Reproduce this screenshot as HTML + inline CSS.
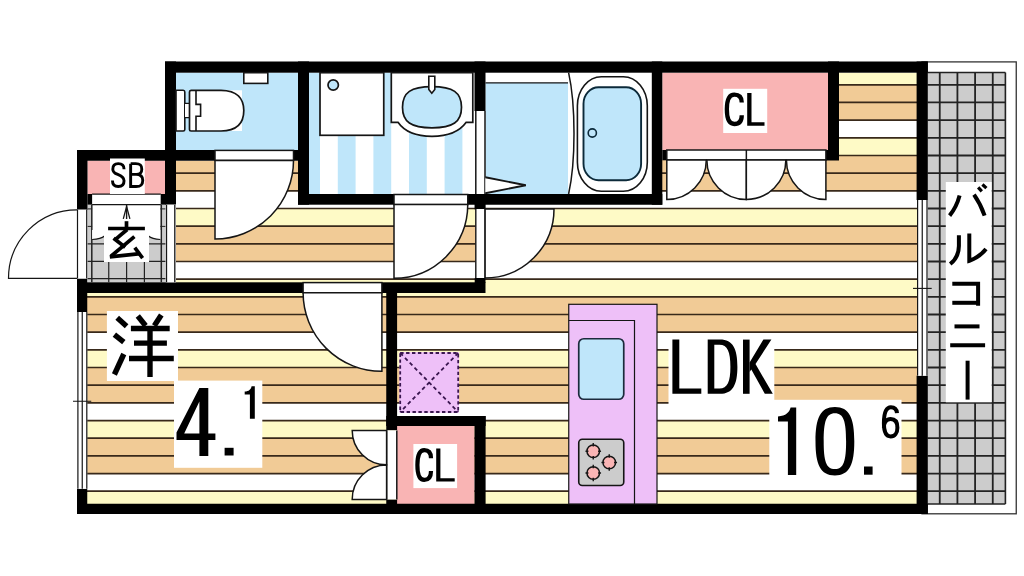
<!DOCTYPE html>
<html><head><meta charset="utf-8"><title>floor plan</title>
<style>html,body{margin:0;padding:0;background:#fff;font-family:"Liberation Sans",sans-serif;}svg{display:block}</style></head>
<body>
<svg width="1024" height="576" viewBox="0 0 1024 576">
<rect width="1024" height="576" fill="#fff"/>
<defs><clipPath id="fl">
<rect x="176" y="205" width="741" height="299"/>
<rect x="87" y="293" width="89" height="211"/>
<rect x="176" y="161" width="122" height="44"/>
<rect x="662" y="160" width="255" height="45"/>
<rect x="839" y="72.7" width="78" height="87.3"/>
</clipPath></defs>
<g clip-path="url(#fl)">
<rect x="80.00" y="49.46" width="840.00" height="18.17" fill="#ffffff" />
<rect x="80.00" y="67.13" width="840.00" height="18.17" fill="#fefac6" />
<rect x="80.00" y="84.80" width="840.00" height="18.17" fill="#f1cb96" />
<rect x="80.00" y="102.47" width="840.00" height="18.17" fill="#f1cb96" />
<rect x="80.00" y="120.14" width="840.00" height="18.17" fill="#ffffff" />
<rect x="80.00" y="137.81" width="840.00" height="18.17" fill="#fefac6" />
<rect x="80.00" y="155.48" width="840.00" height="18.17" fill="#f1cb96" />
<rect x="80.00" y="173.15" width="840.00" height="18.17" fill="#f1cb96" />
<rect x="80.00" y="190.82" width="840.00" height="18.17" fill="#ffffff" />
<rect x="80.00" y="208.49" width="840.00" height="18.17" fill="#fefac6" />
<rect x="80.00" y="226.16" width="840.00" height="18.17" fill="#f1cb96" />
<rect x="80.00" y="243.83" width="840.00" height="18.17" fill="#f1cb96" />
<rect x="80.00" y="261.50" width="840.00" height="18.17" fill="#ffffff" />
<rect x="80.00" y="279.17" width="840.00" height="18.17" fill="#fefac6" />
<rect x="80.00" y="296.84" width="840.00" height="18.17" fill="#f1cb96" />
<rect x="80.00" y="314.51" width="840.00" height="18.17" fill="#f1cb96" />
<rect x="80.00" y="332.18" width="840.00" height="18.17" fill="#ffffff" />
<rect x="80.00" y="349.85" width="840.00" height="18.17" fill="#fefac6" />
<rect x="80.00" y="367.52" width="840.00" height="18.17" fill="#f1cb96" />
<rect x="80.00" y="385.19" width="840.00" height="18.17" fill="#f1cb96" />
<rect x="80.00" y="402.86" width="840.00" height="18.17" fill="#ffffff" />
<rect x="80.00" y="420.53" width="840.00" height="18.17" fill="#fefac6" />
<rect x="80.00" y="438.20" width="840.00" height="18.17" fill="#f1cb96" />
<rect x="80.00" y="455.87" width="840.00" height="18.17" fill="#f1cb96" />
<rect x="80.00" y="473.54" width="840.00" height="18.17" fill="#ffffff" />
<rect x="80.00" y="491.21" width="840.00" height="18.17" fill="#fefac6" />
<rect x="80.00" y="508.88" width="840.00" height="18.17" fill="#f1cb96" />
<line x1="80.00" y1="49.46" x2="920.00" y2="49.46" stroke="#38291a" stroke-width="1.7" />
<line x1="80.00" y1="67.13" x2="920.00" y2="67.13" stroke="#38291a" stroke-width="1.7" />
<line x1="80.00" y1="84.80" x2="920.00" y2="84.80" stroke="#38291a" stroke-width="1.7" />
<line x1="80.00" y1="102.47" x2="920.00" y2="102.47" stroke="#38291a" stroke-width="1.7" />
<line x1="80.00" y1="120.14" x2="920.00" y2="120.14" stroke="#38291a" stroke-width="1.7" />
<line x1="80.00" y1="137.81" x2="920.00" y2="137.81" stroke="#38291a" stroke-width="1.7" />
<line x1="80.00" y1="155.48" x2="920.00" y2="155.48" stroke="#38291a" stroke-width="1.7" />
<line x1="80.00" y1="173.15" x2="920.00" y2="173.15" stroke="#38291a" stroke-width="1.7" />
<line x1="80.00" y1="190.82" x2="920.00" y2="190.82" stroke="#38291a" stroke-width="1.7" />
<line x1="80.00" y1="208.49" x2="920.00" y2="208.49" stroke="#38291a" stroke-width="1.7" />
<line x1="80.00" y1="226.16" x2="920.00" y2="226.16" stroke="#38291a" stroke-width="1.7" />
<line x1="80.00" y1="243.83" x2="920.00" y2="243.83" stroke="#38291a" stroke-width="1.7" />
<line x1="80.00" y1="261.50" x2="920.00" y2="261.50" stroke="#38291a" stroke-width="1.7" />
<line x1="80.00" y1="279.17" x2="920.00" y2="279.17" stroke="#38291a" stroke-width="1.7" />
<line x1="80.00" y1="296.84" x2="920.00" y2="296.84" stroke="#38291a" stroke-width="1.7" />
<line x1="80.00" y1="314.51" x2="920.00" y2="314.51" stroke="#38291a" stroke-width="1.7" />
<line x1="80.00" y1="332.18" x2="920.00" y2="332.18" stroke="#38291a" stroke-width="1.7" />
<line x1="80.00" y1="349.85" x2="920.00" y2="349.85" stroke="#38291a" stroke-width="1.7" />
<line x1="80.00" y1="367.52" x2="920.00" y2="367.52" stroke="#38291a" stroke-width="1.7" />
<line x1="80.00" y1="385.19" x2="920.00" y2="385.19" stroke="#38291a" stroke-width="1.7" />
<line x1="80.00" y1="402.86" x2="920.00" y2="402.86" stroke="#38291a" stroke-width="1.7" />
<line x1="80.00" y1="420.53" x2="920.00" y2="420.53" stroke="#38291a" stroke-width="1.7" />
<line x1="80.00" y1="438.20" x2="920.00" y2="438.20" stroke="#38291a" stroke-width="1.7" />
<line x1="80.00" y1="455.87" x2="920.00" y2="455.87" stroke="#38291a" stroke-width="1.7" />
<line x1="80.00" y1="473.54" x2="920.00" y2="473.54" stroke="#38291a" stroke-width="1.7" />
<line x1="80.00" y1="491.21" x2="920.00" y2="491.21" stroke="#38291a" stroke-width="1.7" />
<line x1="80.00" y1="508.88" x2="920.00" y2="508.88" stroke="#38291a" stroke-width="1.7" />
</g>
<rect x="922.00" y="61.90" width="94.25" height="451.90" fill="#fff" stroke="#333" stroke-width="1.3" />
<rect x="927.50" y="72.50" width="77.90" height="431.50" fill="#cccccc" />
<line x1="927.50" y1="84.80" x2="1005.40" y2="84.80" stroke="#222" stroke-width="1.8" />
<line x1="927.50" y1="102.47" x2="1005.40" y2="102.47" stroke="#222" stroke-width="1.8" />
<line x1="927.50" y1="120.14" x2="1005.40" y2="120.14" stroke="#222" stroke-width="1.8" />
<line x1="927.50" y1="137.81" x2="1005.40" y2="137.81" stroke="#222" stroke-width="1.8" />
<line x1="927.50" y1="155.48" x2="1005.40" y2="155.48" stroke="#222" stroke-width="1.8" />
<line x1="927.50" y1="173.15" x2="1005.40" y2="173.15" stroke="#222" stroke-width="1.8" />
<line x1="927.50" y1="190.82" x2="1005.40" y2="190.82" stroke="#222" stroke-width="1.8" />
<line x1="927.50" y1="208.49" x2="1005.40" y2="208.49" stroke="#222" stroke-width="1.8" />
<line x1="927.50" y1="226.16" x2="1005.40" y2="226.16" stroke="#222" stroke-width="1.8" />
<line x1="927.50" y1="243.83" x2="1005.40" y2="243.83" stroke="#222" stroke-width="1.8" />
<line x1="927.50" y1="261.50" x2="1005.40" y2="261.50" stroke="#222" stroke-width="1.8" />
<line x1="927.50" y1="279.17" x2="1005.40" y2="279.17" stroke="#222" stroke-width="1.8" />
<line x1="927.50" y1="296.84" x2="1005.40" y2="296.84" stroke="#222" stroke-width="1.8" />
<line x1="927.50" y1="314.51" x2="1005.40" y2="314.51" stroke="#222" stroke-width="1.8" />
<line x1="927.50" y1="332.18" x2="1005.40" y2="332.18" stroke="#222" stroke-width="1.8" />
<line x1="927.50" y1="349.85" x2="1005.40" y2="349.85" stroke="#222" stroke-width="1.8" />
<line x1="927.50" y1="367.52" x2="1005.40" y2="367.52" stroke="#222" stroke-width="1.8" />
<line x1="927.50" y1="385.19" x2="1005.40" y2="385.19" stroke="#222" stroke-width="1.8" />
<line x1="927.50" y1="402.86" x2="1005.40" y2="402.86" stroke="#222" stroke-width="1.8" />
<line x1="927.50" y1="420.53" x2="1005.40" y2="420.53" stroke="#222" stroke-width="1.8" />
<line x1="927.50" y1="438.20" x2="1005.40" y2="438.20" stroke="#222" stroke-width="1.8" />
<line x1="927.50" y1="455.87" x2="1005.40" y2="455.87" stroke="#222" stroke-width="1.8" />
<line x1="927.50" y1="473.54" x2="1005.40" y2="473.54" stroke="#222" stroke-width="1.8" />
<line x1="927.50" y1="491.21" x2="1005.40" y2="491.21" stroke="#222" stroke-width="1.8" />
<line x1="939.75" y1="72.50" x2="939.75" y2="504.00" stroke="#222" stroke-width="1.8" />
<line x1="957.42" y1="72.50" x2="957.42" y2="504.00" stroke="#222" stroke-width="1.8" />
<line x1="975.09" y1="72.50" x2="975.09" y2="504.00" stroke="#222" stroke-width="1.8" />
<line x1="992.76" y1="72.50" x2="992.76" y2="504.00" stroke="#222" stroke-width="1.8" />
<line x1="927.50" y1="72.50" x2="1005.40" y2="72.50" stroke="#222" stroke-width="1.6" />
<line x1="1005.40" y1="72.50" x2="1005.40" y2="504.00" stroke="#222" stroke-width="1.6" />
<line x1="927.50" y1="504.00" x2="1005.40" y2="504.00" stroke="#222" stroke-width="1.6" />
<rect x="176.00" y="72.70" width="122.00" height="77.50" fill="#bfe6fa" />
<rect x="309.00" y="72.70" width="165.50" height="121.50" fill="#fff" />
<rect x="309.00" y="72.70" width="11.00" height="121.50" fill="#bfe6fa" />
<rect x="337.80" y="72.70" width="17.80" height="121.50" fill="#bfe6fa" />
<rect x="373.40" y="72.70" width="17.80" height="121.50" fill="#bfe6fa" />
<rect x="409.00" y="72.70" width="17.80" height="121.50" fill="#bfe6fa" />
<rect x="444.60" y="72.70" width="17.80" height="121.50" fill="#bfe6fa" />
<rect x="485.50" y="72.70" width="166.50" height="121.50" fill="#fff" />
<rect x="485.50" y="82.80" width="82.50" height="111.40" fill="#bfe6fa" />
<line x1="485.50" y1="82.80" x2="568.00" y2="82.80" stroke="#151515" stroke-width="1.2" />
<rect x="662.30" y="72.70" width="165.70" height="77.30" fill="#f9b4b4" />
<rect x="87.50" y="160.70" width="78.00" height="33.30" fill="#f9b4b4" />
<rect x="397.00" y="426.00" width="77.50" height="78.00" fill="#f9b4b4" />
<rect x="87.50" y="194.00" width="78.00" height="88.30" fill="#cccccc" />
<rect x="92.10" y="194.00" width="68.20" height="43.00" fill="#fff" />
<rect x="399.40" y="352.20" width="59.60" height="60.60" fill="#eec0f8" />
<rect x="165.00" y="61.50" width="762.80" height="11.20" fill="#000" />
<rect x="165.00" y="61.50" width="11.00" height="143.20" fill="#000" />
<rect x="77.00" y="150.00" width="99.00" height="10.75" fill="#000" />
<rect x="77.00" y="150.00" width="10.50" height="60.00" fill="#000" />
<rect x="87.50" y="194.00" width="4.60" height="10.60" fill="#000" />
<rect x="160.80" y="194.00" width="4.70" height="10.60" fill="#000" />
<rect x="165.00" y="150.00" width="50.00" height="10.75" fill="#000" />
<rect x="293.50" y="150.00" width="15.50" height="10.75" fill="#000" />
<rect x="298.00" y="61.50" width="11.00" height="143.20" fill="#000" />
<rect x="298.00" y="194.00" width="96.00" height="10.70" fill="#000" />
<rect x="467.75" y="194.00" width="194.55" height="10.75" fill="#000" />
<rect x="474.55" y="204.00" width="11.05" height="5.40" fill="#000" />
<rect x="474.50" y="61.50" width="11.00" height="49.50" fill="#000" />
<rect x="651.80" y="61.50" width="10.50" height="143.25" fill="#000" />
<rect x="662.30" y="150.00" width="4.50" height="10.30" fill="#000" />
<rect x="828.00" y="61.50" width="11.00" height="99.00" fill="#000" />
<rect x="825.90" y="150.00" width="2.10" height="10.50" fill="#000" />
<rect x="916.60" y="61.50" width="11.20" height="138.50" fill="#000" />
<rect x="916.60" y="375.70" width="11.20" height="138.30" fill="#000" />
<rect x="77.00" y="503.75" width="850.80" height="10.25" fill="#000" />
<rect x="77.00" y="278.50" width="10.25" height="33.50" fill="#000" />
<rect x="77.00" y="488.75" width="10.25" height="25.25" fill="#000" />
<rect x="77.00" y="282.30" width="226.10" height="10.70" fill="#000" />
<rect x="381.90" y="282.30" width="103.60" height="10.70" fill="#000" />
<rect x="474.70" y="278.00" width="10.80" height="5.00" fill="#000" />
<rect x="386.25" y="293.00" width="10.85" height="137.40" fill="#000" />
<rect x="386.25" y="499.40" width="10.85" height="4.60" fill="#000" />
<rect x="386.25" y="416.00" width="99.35" height="10.00" fill="#000" />
<rect x="474.50" y="416.00" width="11.10" height="88.00" fill="#000" />
<rect x="917.00" y="200.00" width="10.50" height="175.70" fill="#fff" />
<line x1="917.60" y1="200.00" x2="917.60" y2="375.70" stroke="#151515" stroke-width="1.2" />
<line x1="922.25" y1="200.00" x2="922.25" y2="375.70" stroke="#151515" stroke-width="1.2" />
<line x1="927.00" y1="200.00" x2="927.00" y2="375.70" stroke="#151515" stroke-width="1.2" />
<line x1="913.00" y1="288.40" x2="931.70" y2="288.40" stroke="#151515" stroke-width="1.1" />
<rect x="77.00" y="312.00" width="10.25" height="176.75" fill="#fff" />
<line x1="77.90" y1="312.00" x2="77.90" y2="488.75" stroke="#151515" stroke-width="1.2" />
<line x1="82.25" y1="312.00" x2="82.25" y2="488.75" stroke="#151515" stroke-width="1.2" />
<line x1="86.80" y1="312.00" x2="86.80" y2="488.75" stroke="#151515" stroke-width="1.2" />
<line x1="73.00" y1="401.25" x2="91.25" y2="401.25" stroke="#151515" stroke-width="1.0" />
<line x1="87.50" y1="243.90" x2="165.50" y2="243.90" stroke="#222" stroke-width="1.2" />
<line x1="87.50" y1="261.40" x2="165.50" y2="261.40" stroke="#222" stroke-width="1.2" />
<line x1="87.50" y1="278.60" x2="165.50" y2="278.60" stroke="#222" stroke-width="1.2" />
<line x1="87.50" y1="208.90" x2="92.10" y2="208.90" stroke="#222" stroke-width="1.0" />
<line x1="160.30" y1="208.90" x2="165.50" y2="208.90" stroke="#222" stroke-width="1.0" />
<line x1="87.50" y1="226.40" x2="92.10" y2="226.40" stroke="#222" stroke-width="1.0" />
<line x1="160.30" y1="226.40" x2="165.50" y2="226.40" stroke="#222" stroke-width="1.0" />
<line x1="108.75" y1="237.00" x2="108.75" y2="282.30" stroke="#222" stroke-width="1.2" />
<line x1="126.60" y1="237.00" x2="126.60" y2="282.30" stroke="#222" stroke-width="1.2" />
<line x1="144.40" y1="237.00" x2="144.40" y2="282.30" stroke="#222" stroke-width="1.2" />
<line x1="91.80" y1="204.60" x2="91.80" y2="282.30" stroke="#222" stroke-width="1.5" />
<line x1="161.30" y1="204.60" x2="161.30" y2="282.30" stroke="#222" stroke-width="1.5" />
<line x1="92.10" y1="194.20" x2="160.80" y2="194.20" stroke="#151515" stroke-width="1.2" />
<line x1="92.10" y1="204.60" x2="160.80" y2="204.60" stroke="#151515" stroke-width="1.2" />
<path d="M92.1,239.5 Q101,239 104,236 L104,237 L149,237 L149,236 Q152,239 160.3,239.5 L160.3,230 L92.1,230 Z" fill="#fff" stroke="none" stroke-width="0" />
<path d="M92.1,239.5 Q101,239 104.5,236" fill="none" stroke="#151515" stroke-width="1.2" />
<path d="M160.3,239.5 Q152,239 148.5,236" fill="none" stroke="#151515" stroke-width="1.2" />
<rect x="165.80" y="204.70" width="10.20" height="77.60" fill="#fff" />
<line x1="166.50" y1="204.70" x2="166.50" y2="282.30" stroke="#151515" stroke-width="1.3" />
<line x1="174.80" y1="204.70" x2="174.80" y2="282.30" stroke="#151515" stroke-width="1.3" />
<rect x="77.00" y="209.50" width="10.25" height="69.00" fill="#fff" />
<line x1="77.50" y1="209.50" x2="77.50" y2="278.50" stroke="#151515" stroke-width="1.2" />
<line x1="86.70" y1="209.50" x2="86.70" y2="278.50" stroke="#151515" stroke-width="1.2" />
<path d="M77,278.3 L8.5,278.3 A68.5,68.5 0 0 1 77,209.8" fill="none" stroke="#151515" stroke-width="1.2" />
<line x1="126.60" y1="204.60" x2="126.60" y2="219.00" stroke="#151515" stroke-width="1.4" />
<path d="M123.3,218.8 L126.6,206.5 L129.9,218.8" fill="none" stroke="#151515" stroke-width="1.3" />
<rect x="215.00" y="150.40" width="78.50" height="10.00" fill="#fff" stroke="#151515" stroke-width="1.5" />
<path d="M215.00,160.40 L215.00,239.00 A78.50,78.50 0 0 0 293.50,160.40 Z" fill="#fff" stroke="#151515" stroke-width="1.5" />
<rect x="394.00" y="194.50" width="73.75" height="10.10" fill="#fff" stroke="#151515" stroke-width="1.5" />
<path d="M394.00,204.60 L394.00,278.20 A73.70,73.70 0 0 0 467.75,204.60 Z" fill="#fff" stroke="#151515" stroke-width="1.5" />
<rect x="475.50" y="209.00" width="10.00" height="69.00" fill="#fff" />
<line x1="475.80" y1="209.00" x2="475.80" y2="278.00" stroke="#151515" stroke-width="1.4" />
<line x1="485.10" y1="209.00" x2="485.10" y2="278.00" stroke="#151515" stroke-width="1.4" />
<path d="M485.10,209.00 L554.00,209.00 A69.00,69.00 0 0 1 485.10,278.00 Z" fill="#fff" stroke="#151515" stroke-width="1.5" />
<rect x="303.10" y="282.60" width="78.80" height="10.20" fill="#fff" stroke="#151515" stroke-width="1.5" />
<path d="M381.90,292.80 L381.90,371.30 A78.60,78.60 0 0 1 303.10,292.80 Z" fill="#fff" stroke="#151515" stroke-width="1.5" />
<rect x="666.80" y="150.00" width="159.10" height="10.00" fill="#fff" stroke="#151515" stroke-width="1.5" />
<line x1="746.35" y1="150.00" x2="746.35" y2="160.00" stroke="#151515" stroke-width="1.5" />
<path d="M666.80,160.00 L666.80,199.50 A39.50,39.50 0 0 0 706.30,160.00 Z" fill="#fff" stroke="#151515" stroke-width="1.5" />
<path d="M746.35,160.00 L746.35,199.50 A39.50,39.50 0 0 1 706.85,160.00 Z" fill="#fff" stroke="#151515" stroke-width="1.5" />
<path d="M746.35,160.00 L746.35,199.50 A39.50,39.50 0 0 0 785.85,160.00 Z" fill="#fff" stroke="#151515" stroke-width="1.5" />
<path d="M825.90,160.00 L825.90,199.50 A39.50,39.50 0 0 1 786.40,160.00 Z" fill="#fff" stroke="#151515" stroke-width="1.5" />
<rect x="386.25" y="430.40" width="10.85" height="69.00" fill="#fff" />
<line x1="386.60" y1="430.40" x2="386.60" y2="499.40" stroke="#151515" stroke-width="1.5" />
<line x1="396.80" y1="430.40" x2="396.80" y2="499.40" stroke="#151515" stroke-width="1.5" />
<path d="M386.60,430.40 L352.20,430.40 A34.40,34.40 0 0 0 386.60,464.80 Z" fill="#fff" stroke="#151515" stroke-width="1.5" />
<path d="M386.60,499.40 L352.20,499.40 A34.40,34.40 0 0 1 386.60,465.00 Z" fill="#fff" stroke="#151515" stroke-width="1.5" />
<rect x="475.50" y="111.00" width="10.00" height="83.00" fill="#fff" />
<line x1="475.80" y1="111.00" x2="475.80" y2="194.00" stroke="#151515" stroke-width="1.5" />
<line x1="485.00" y1="111.00" x2="485.00" y2="194.00" stroke="#151515" stroke-width="1.5" />
<path d="M485.3,177.2 L525.8,185.3 L485.3,193.2" fill="#fff" stroke="#151515" stroke-width="1.9" />
<rect x="243.80" y="72.70" width="24.00" height="10.70" fill="#fff" stroke="#151515" stroke-width="1.6" />
<path d="M176,90.3 L183.2,90.3 Q184.8,90.3 184.8,92 L184.8,129.4 Q184.8,131 183.2,131 L176,131 Z" fill="#fff" stroke="#151515" stroke-width="1.6" />
<path d="M184.8,103.5 L189.5,103.5 M184.8,117.5 L189.5,117.5" fill="none" stroke="#151515" stroke-width="1.6" />
<rect x="185.00" y="104.00" width="4.50" height="13.00" fill="#fff" />
<rect x="196.00" y="90.30" width="46.00" height="40.70" fill="#fff" />
<path d="M191,90.3 L221,90.3 C237.5,90.3 243.8,99 243.8,110.6 C243.8,122.3 237.5,131 221,131 L191,131 Q189.5,131 189.5,129.4 L189.5,92 Q189.5,90.3 191,90.3 Z" fill="#fff" stroke="#151515" stroke-width="1.7" />
<path d="M196,90.3 L196,104.4 L200.6,104.4 L200.6,116.2 L196,116.2 L196,131" fill="none" stroke="#151515" stroke-width="1.6" />
<rect x="320.00" y="72.70" width="63.75" height="62.60" fill="#fff" stroke="#151515" stroke-width="1.7" />
<circle cx="333.2" cy="85" r="5.2" fill="#bfe6fa" stroke="#151515" stroke-width="1.7"/>
<path d="M391.3,72.7 L391.3,122.3 L398,122.3 C404,131 416,136.3 432,136.3 C448,136.3 460,131 466.2,122.3 L472.8,122.3 L472.8,72.7 Z" fill="#fff" stroke="#151515" stroke-width="1.7" />
<path d="M432,86.6 C453,86.6 461.5,92.5 461.5,107.2 C461.5,121.9 453,127.8 432,127.8 C411,127.8 402.5,121.9 402.5,107.2 C402.5,92.5 411,86.6 432,86.6 Z" fill="#bfe6fa" stroke="#151515" stroke-width="1.7" />
<path d="M428.8,76.3 L434.8,76.3 L434.8,89.5 L431.8,93.2 L428.8,89.5 Z" fill="#fff" stroke="#151515" stroke-width="1.6" />
<path d="M568.6,72.7 C575.8,105 575.8,162 568.6,194" fill="none" stroke="#151515" stroke-width="1.5" />
<rect x="577.4" y="76.8" width="69.9" height="114.4" rx="24" ry="29" fill="#fff" stroke="#151515" stroke-width="1.6"/>
<rect x="583.5" y="87.2" width="57.6" height="93" rx="15" ry="16.5" fill="#bfe6fa" stroke="#0c2a3a" stroke-width="1.9"/>
<circle cx="592.3" cy="133" r="4.1" fill="#bfe6fa" stroke="#0c2a3a" stroke-width="1.6"/>
<rect x="400.2" y="353" width="58" height="59" fill="none" stroke="#3a1650" stroke-width="1.8" stroke-dasharray="3.4 2.5"/>
<path d="M400.2,353 L458.2,412 M458.2,353 L400.2,412" fill="none" stroke="#3a1650" stroke-width="1.8" stroke-dasharray="3.8 3"/>
<rect x="568.75" y="304.30" width="88.25" height="199.70" fill="#eec0f8" stroke="#151515" stroke-width="1.2" />
<path d="M568.75,320.5 L634.5,320.5 L634.5,504" fill="none" stroke="#151515" stroke-width="1.2" />
<rect x="578.75" y="338.75" width="45" height="60.5" rx="5" ry="5" fill="#bfe6fa" stroke="#1c2a3c" stroke-width="1.7"/>
<rect x="578.75" y="439.25" width="45" height="46.25" rx="3.5" ry="3.5" fill="#cccccc" stroke="#151515" stroke-width="1.6"/>
<circle cx="593.25" cy="451.25" r="6.3" fill="#f9b4b4" stroke="#151515" stroke-width="1.5"/>
<line x1="598.05" y1="451.25" x2="601.05" y2="451.25" stroke="#151515" stroke-width="1.4" />
<line x1="588.45" y1="451.25" x2="585.45" y2="451.25" stroke="#151515" stroke-width="1.4" />
<line x1="593.25" y1="456.05" x2="593.25" y2="459.45" stroke="#151515" stroke-width="1.4" />
<line x1="593.25" y1="446.45" x2="593.25" y2="443.05" stroke="#151515" stroke-width="1.4" />
<circle cx="609.25" cy="462.5" r="6.3" fill="#f9b4b4" stroke="#151515" stroke-width="1.5"/>
<line x1="614.05" y1="462.50" x2="617.05" y2="462.50" stroke="#151515" stroke-width="1.4" />
<line x1="604.45" y1="462.50" x2="601.45" y2="462.50" stroke="#151515" stroke-width="1.4" />
<line x1="609.25" y1="467.30" x2="609.25" y2="470.70" stroke="#151515" stroke-width="1.4" />
<line x1="609.25" y1="457.70" x2="609.25" y2="454.30" stroke="#151515" stroke-width="1.4" />
<circle cx="593.25" cy="473" r="6.3" fill="#f9b4b4" stroke="#151515" stroke-width="1.5"/>
<line x1="598.05" y1="473.00" x2="601.05" y2="473.00" stroke="#151515" stroke-width="1.4" />
<line x1="588.45" y1="473.00" x2="585.45" y2="473.00" stroke="#151515" stroke-width="1.4" />
<line x1="593.25" y1="477.80" x2="593.25" y2="481.20" stroke="#151515" stroke-width="1.4" />
<line x1="593.25" y1="468.20" x2="593.25" y2="464.80" stroke="#151515" stroke-width="1.4" />
<rect x="723.20" y="88.80" width="44.00" height="44.20" fill="#fff" />
<rect x="413.40" y="444.00" width="43.70" height="44.10" fill="#fff" />
<rect x="110.00" y="158.50" width="34.80" height="35.50" fill="#fff" />
<rect x="104.00" y="221.00" width="45.00" height="41.00" fill="#fff" />
<rect x="106.90" y="311.00" width="71.10" height="70.00" fill="#fff" />
<rect x="174.00" y="380.60" width="88.30" height="87.20" fill="#fff" />
<rect x="668.50" y="333.50" width="105.80" height="70.80" fill="#fff" />
<rect x="769.30" y="399.80" width="132.20" height="78.20" fill="#fff" />
<rect x="945.80" y="182.00" width="45.90" height="220.30" fill="#fff" />
<path d="M741.75,102.55 C741.75,96.97 738.77,94.62 734.30,94.62 C728.64,94.62 726.85,99.90 726.85,109.30 C726.85,118.70 728.64,123.98 734.30,123.98 C738.77,123.98 741.75,121.63 741.75,115.17" fill="none" stroke="#000" stroke-width="4.3" stroke-linecap="butt" stroke-linejoin="miter"/>
<path d="M747.2,92.9 L751.5,92.9 L751.5,122.3 L764.5,122.3 L764.5,125.7 L747.2,125.7 Z" fill="#000" fill-rule="evenodd"/>
<path d="M431.00,458.14 C431.00,452.47 428.28,450.08 424.20,450.08 C419.03,450.08 417.40,455.45 417.40,465.00 C417.40,474.55 419.03,479.92 424.20,479.92 C428.28,479.92 431.00,477.53 431.00,470.97" fill="none" stroke="#000" stroke-width="4.2" stroke-linecap="butt" stroke-linejoin="miter"/>
<path d="M436.2,448.4 L440.4,448.4 L440.4,478.20000000000005 L454.7,478.20000000000005 L454.7,481.6 L436.2,481.6 Z" fill="#000" fill-rule="evenodd"/>
<path d="M124.05,169.15 C124.05,165.02 121.73,163.65 118.25,163.65 C114.54,163.65 112.80,165.48 112.80,169.15 C112.80,172.81 115.93,173.73 118.25,174.64 C121.15,175.79 124.05,177.39 124.05,180.82 C124.05,184.72 121.73,186.55 118.25,186.55 C114.77,186.55 112.45,185.18 112.45,180.60" fill="none" stroke="#000" stroke-width="2.9" stroke-linecap="butt" stroke-linejoin="miter"/>
<path d="M130.65,163.65 L130.65,186.55 L136.09,186.55 C141.54,186.55 142.75,184.26 142.75,180.37 C142.75,176.24 140.94,174.41 136.09,174.41 L130.65,174.41 M136.09,174.41 C140.57,174.41 141.78,172.58 141.78,169.15 C141.78,165.48 140.57,163.65 135.73,163.65 L130.65,163.65" fill="none" stroke="#000" stroke-width="2.9" stroke-linecap="butt" stroke-linejoin="miter"/>
<path d="M672.4,339.6 L679.3,339.6 L679.3,388.40000000000003 L701.3,388.40000000000003 L701.3,393.8 L672.4,393.8 Z" fill="#000" fill-rule="evenodd"/>
<path d="M707.7,339.6 L720,339.6 C733,339.6 737.4,349 737.4,366.7 C737.4,384.4 733,393.8 720,393.8 L707.7,393.8 Z M714.3,344.8 L714.3,388.6 L719.5,388.6 C727.5,388.6 730.4,381.5 730.4,366.7 C730.4,351.9 727.5,344.8 719.5,344.8 Z" fill="#000" fill-rule="evenodd"/>
<path d="M743,339.6 L749.6,339.6 L749.6,393.8 L743,393.8 Z" fill="#000" fill-rule="evenodd"/>
<path d="M763.4,339.6 L771.4,339.6 L755.5,364.0 L772.8,393.8 L764.8,393.8 L751.3,369.6 L749.6,372 L749.6,362.5 Z" fill="#000" fill-rule="evenodd"/>
<path d="M796.2,407.5 L796.2,475 L787.9,475 L787.9,421.5 L778,421.5 L778,416.4 C786,415.8 789.3,412.5 790.6,407.5 Z" fill="#000" fill-rule="evenodd"/>
<path d="M834.9,407 C849.5,407 854.3,418 854.3,441.2 C854.3,464.4 849.5,475.4 834.9,475.4 C820.3,475.4 815.5,464.4 815.5,441.2 C815.5,418 820.3,407 834.9,407 Z M834.9,413.3 C826,413.3 823.7,422 823.7,441.2 C823.7,460.4 826,469.1 834.9,469.1 C843.8,469.1 846.1,460.4 846.1,441.2 C846.1,422 843.8,413.3 834.9,413.3 Z" fill="#000" fill-rule="evenodd"/>
<path d="M864,466.5 L872.6,466.5 L872.6,474.7 L864,474.7 Z" fill="#000" fill-rule="evenodd"/>
<path d="M897.00,413.12 C896.59,409.05 894.02,407.30 890.92,407.30 C885.92,407.30 883.90,413.12 883.90,423.31 C883.90,433.49 886.60,436.40 890.65,436.40 C894.70,436.40 897.40,432.91 897.40,427.67 C897.40,421.85 894.70,418.94 890.65,418.94 C886.60,418.94 883.90,422.43 883.90,427.67" fill="none" stroke="#000" stroke-width="4.0" stroke-linecap="butt" stroke-linejoin="miter"/>
<path d="M199.4,388.1 L208.3,388.1 L208.3,433.5 L215.4,433.5 L215.4,440 L208.3,440 L208.3,456 L199.4,456 L199.4,440 L176.5,440 L176.5,432.5 Z M199.4,401.5 L184.2,433.5 L199.4,433.5 Z" fill="#000" fill-rule="evenodd"/>
<path d="M224.6,447.8 L233.6,447.8 L233.6,455.5 L224.6,455.5 Z" fill="#000" fill-rule="evenodd"/>
<path d="M254.8,386.2 L254.8,418.8 L249.9,418.8 L249.9,394.6 L244.7,394.6 L244.7,391.6 C249,391.2 250.8,389.5 251.6,386.2 Z" fill="#000" fill-rule="evenodd"/>
<path d="M117.2,317.8 L126.6,326.3" fill="none" stroke="#000" stroke-width="5.4" stroke-linecap="butt" stroke-linejoin="miter"/>
<path d="M114.4,334.7 L123.8,342.2" fill="none" stroke="#000" stroke-width="5.4" stroke-linecap="butt" stroke-linejoin="miter"/>
<path d="M114.4,374.5 L123.8,354" fill="none" stroke="#000" stroke-width="5.4" stroke-linecap="butt" stroke-linejoin="miter"/>
<path d="M137.8,316 L145.6,325.8" fill="none" stroke="#000" stroke-width="5.4" stroke-linecap="butt" stroke-linejoin="miter"/>
<path d="M161.3,315 L154.3,325.8" fill="none" stroke="#000" stroke-width="5.4" stroke-linecap="butt" stroke-linejoin="miter"/>
<path d="M130.9,328.5 L169.7,328.5" fill="none" stroke="#000" stroke-width="5.4" stroke-linecap="butt" stroke-linejoin="miter"/>
<path d="M134,343.1 L166.9,343.1" fill="none" stroke="#000" stroke-width="5.4" stroke-linecap="butt" stroke-linejoin="miter"/>
<path d="M129,358.5 L173.8,358.5" fill="none" stroke="#000" stroke-width="5.4" stroke-linecap="butt" stroke-linejoin="miter"/>
<path d="M150,326 L150,377" fill="none" stroke="#000" stroke-width="5.4" stroke-linecap="butt" stroke-linejoin="miter"/>
<path d="M126.5,221.2 L126.5,228.5" fill="none" stroke="#000" stroke-width="3.7" stroke-linecap="butt" stroke-linejoin="miter"/>
<path d="M108.1,228.5 L144.9,228.5" fill="none" stroke="#000" stroke-width="3.7" stroke-linecap="butt" stroke-linejoin="miter"/>
<path d="M127.2,229.5 L114.6,240.2" fill="none" stroke="#000" stroke-width="3.7" stroke-linecap="butt" stroke-linejoin="miter"/>
<path d="M113.6,238.2 L125.2,247.2" fill="none" stroke="#000" stroke-width="3.7" stroke-linecap="butt" stroke-linejoin="miter"/>
<path d="M134.4,236.6 L111,256.2" fill="none" stroke="#000" stroke-width="3.7" stroke-linecap="butt" stroke-linejoin="miter"/>
<path d="M109.8,256.9 L140.3,253.6" fill="none" stroke="#000" stroke-width="3.7" stroke-linecap="butt" stroke-linejoin="miter"/>
<path d="M134.8,247.6 L142.6,258.2" fill="none" stroke="#000" stroke-width="3.7" stroke-linecap="butt" stroke-linejoin="miter"/>
<path d="M959.6,195.6 C957.5,203.5 954.5,209.8 949.6,215.6" fill="none" stroke="#000" stroke-width="4.0" stroke-linecap="butt" stroke-linejoin="miter"/>
<path d="M974,194.6 C978.5,201 982,208 984.6,215.6" fill="none" stroke="#000" stroke-width="4.0" stroke-linecap="butt" stroke-linejoin="miter"/>
<path d="M978.2,187.4 L981.8,191.4" fill="none" stroke="#000" stroke-width="3.2" stroke-linecap="butt" stroke-linejoin="miter"/>
<path d="M982.4,184.5 L986.4,188.2" fill="none" stroke="#000" stroke-width="3.2" stroke-linecap="butt" stroke-linejoin="miter"/>
<path d="M958.9,235.2 L958.9,246 C958.9,254 956,259.5 950.2,264" fill="none" stroke="#000" stroke-width="4.0" stroke-linecap="butt" stroke-linejoin="miter"/>
<path d="M969.3,233.4 L969.3,260.8 C976,258.5 981.5,254.6 986,248.9" fill="none" stroke="#000" stroke-width="4.0" stroke-linecap="butt" stroke-linejoin="miter"/>
<path d="M952.3,283.7 L978.1,283.7 L978.1,305.8" fill="none" stroke="#000" stroke-width="4.0" stroke-linecap="butt" stroke-linejoin="miter"/>
<path d="M952.3,302.8 L978.1,302.8" fill="none" stroke="#000" stroke-width="4.0" stroke-linecap="butt" stroke-linejoin="miter"/>
<path d="M954.5,326.4 L979.5,326.4" fill="none" stroke="#000" stroke-width="4.0" stroke-linecap="butt" stroke-linejoin="miter"/>
<path d="M950.2,345.3 L985.1,345.3" fill="none" stroke="#000" stroke-width="4.0" stroke-linecap="butt" stroke-linejoin="miter"/>
<path d="M967.6,360.7 L967.6,399.6" fill="none" stroke="#000" stroke-width="4.0" stroke-linecap="butt" stroke-linejoin="miter"/>
</svg>
</body></html>
